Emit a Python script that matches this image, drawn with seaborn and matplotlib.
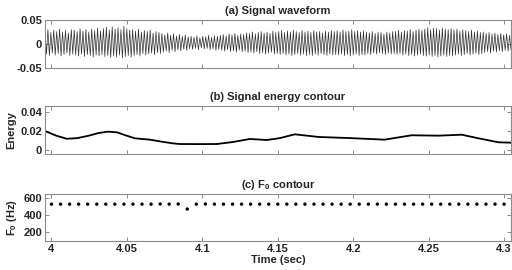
import numpy as np
import pandas as pd
import matplotlib
matplotlib.use("Agg")
import matplotlib.pyplot as plt
import seaborn as sns

# ---------------- data ----------------
# per-cycle positive / negative peaks of the waveform
wave_upper = [.027,.030,.024,.029,.026,.031,.025,.028,.023,.030,
              .029,.026,.032,.027,.030,.025,.031,.028,.033,.027,
              .032,.035,.029,.036,.031,.034,.030,.037,.032,.029,
              .030,.027,.031,.025,.028,.026,.029,.023,.026,.024,
              .022,.019,.023,.018,.021,.017,.020,.016,.019,.015,
              .016,.014,.017,.013,.016,.015,.018,.014,.017,.016,
              .018,.020,.017,.021,.019,.022,.018,.021,.020,.023,
              .022,.025,.021,.024,.026,.023,.025,.022,.027,.024,
              .026,.028,.024,.027,.025,.029,.026,.024,.028,.025,
              .027,.024,.028,.025,.026,.023,.027,.025,.028,.026,
              .028,.025,.029,.026,.027,.030,.026,.028,.025,.027,
              .025,.023,.026,.022,.025,.024,.021,.025,.023,.026,
              .026,.029,.025,.028,.027,.030,.026,.029,.031,.028,
              .031,.034,.030,.033,.032,.029,.033,.031,.030,.032,
              .029,.031,.027,.030,.028,.026,.029,.025,.027,.024,
              .025,.022,.024,.021,.023,.020,.022,.019,.021,.018]
wave_lower = [-.021,-.024,-.019,-.023,-.020,-.025,-.022,-.019,-.024,-.021,
              -.023,-.025,-.021,-.026,-.022,-.024,-.027,-.023,-.025,-.022,
              -.026,-.024,-.028,-.025,-.027,-.023,-.029,-.026,-.024,-.027,
              -.024,-.022,-.025,-.020,-.023,-.021,-.019,-.022,-.018,-.020,
              -.017,-.015,-.018,-.013,-.016,-.012,-.014,-.011,-.013,-.010,
              -.011,-.009,-.012,-.008,-.010,-.009,-.012,-.010,-.013,-.011,
              -.013,-.015,-.012,-.016,-.014,-.017,-.013,-.016,-.015,-.018,
              -.017,-.019,-.016,-.020,-.018,-.021,-.019,-.017,-.021,-.020,
              -.022,-.020,-.023,-.021,-.024,-.022,-.020,-.023,-.021,-.024,
              -.022,-.024,-.021,-.023,-.020,-.022,-.024,-.021,-.023,-.022,
              -.023,-.021,-.024,-.022,-.025,-.023,-.021,-.024,-.022,-.023,
              -.020,-.022,-.019,-.021,-.018,-.020,-.022,-.019,-.021,-.020,
              -.022,-.020,-.023,-.021,-.024,-.022,-.025,-.023,-.021,-.024,
              -.025,-.023,-.026,-.024,-.027,-.025,-.023,-.026,-.024,-.025,
              -.023,-.021,-.024,-.022,-.020,-.023,-.021,-.019,-.022,-.020,
              -.018,-.016,-.019,-.015,-.017,-.014,-.016,-.013,-.015,-.012]

energy_time = [3.9957, 4.0030, 4.0101, 4.0170, 4.0240, 4.0310, 4.0374, 4.0434,
               4.0490, 4.0553, 4.0600, 4.0652, 4.0720, 4.0805, 4.0851, 4.0970,
               4.1096, 4.1202, 4.1315, 4.1427, 4.1513, 4.1613, 4.1772, 4.1970,
               4.2209, 4.2387, 4.2566, 4.2719, 4.2831, 4.2964, 4.3050]
energy_values = [0.0200, 0.0152, 0.0118, 0.0125, 0.0148, 0.0178, 0.0193, 0.0186,
                 0.0155, 0.0123, 0.0116, 0.0109, 0.0090, 0.0070, 0.0063, 0.0062,
                 0.0063, 0.0084, 0.0116, 0.0105, 0.0125, 0.0165, 0.0137, 0.0126,
                 0.0109, 0.0155, 0.0151, 0.0161, 0.0123, 0.0081, 0.0077]

f0_values = [531, 531, 531, 531, 531, 531, 531, 531, 531, 531,
             531, 531, 533, 531, 533, 474, 531, 533, 531, 531,
             531, 531, 531, 531, 531, 531, 531, 531, 531, 531,
             531, 531, 531, 531, 531, 531, 531, 531, 531, 531,
             531, 531, 531, 531, 531, 531, 531, 531, 531, 531, 531]
f0_start, f0_step = 4.0, 0.006

x_ticks = [4.0, 4.05, 4.1, 4.15, 4.2, 4.25, 4.3]
x_ticklabels = ["4", "4.05", "4.1", "4.15", "4.2", "4.25", "4.3"]
wave_yticks, wave_yticklabels = [-0.05, 0, 0.05], ["-0.05", "0", "0.05"]
energy_yticks, energy_yticklabels = [0, 0.02, 0.04], ["0", "0.02", "0.04"]
f0_yticks, f0_yticklabels = [200, 400, 600], ["200", "400", "600"]

XMIN, XMAX = 3.9957, 4.3046

# ---------------- build tables ----------------
wave_y = np.empty(2 * len(wave_upper))
wave_y[0::2] = wave_upper
wave_y[1::2] = wave_lower
wave_df = pd.DataFrame({"t": np.linspace(XMIN, XMAX, len(wave_y)), "y": wave_y})
energy_df = pd.DataFrame({"t": energy_time, "e": energy_values})
f0_df = pd.DataFrame({"t": f0_start + f0_step * np.arange(len(f0_values)),
                      "f0": f0_values})

# ---------------- style ----------------
sns.set_style("white")
plt.rcParams["font.family"] = ["Liberation Sans", "DejaVu Sans"]
plt.rcParams["font.weight"] = "bold"
plt.rcParams["mathtext.fontset"] = "custom"
plt.rcParams["mathtext.rm"] = "Liberation Sans:bold"
plt.rcParams["mathtext.bf"] = "Liberation Sans:bold"
plt.rcParams["mathtext.it"] = "Liberation Sans:bold"

fig = plt.figure(figsize=(5.12, 2.70), dpi=100)
left, width = 45 / 512, 466 / 512
ax_a = fig.add_axes([left, 1 - 68 / 270, width, 48 / 270])
ax_b = fig.add_axes([left, 1 - 154 / 270, width, 48 / 270])
ax_c = fig.add_axes([left, 1 - 241 / 270, width, 47 / 270])

sns.lineplot(data=wave_df, x="t", y="y", ax=ax_a, color="#303030",
             linewidth=0.5, estimator=None, sort=False)
sns.lineplot(data=energy_df, x="t", y="e", ax=ax_b, color="black",
             linewidth=1.3, estimator=None)
sns.scatterplot(data=f0_df, x="t", y="f0", ax=ax_c, color="black",
                s=6, edgecolor="none")

spine_col = "#8c8c8c"
for ax, yl, yt, ytl in [(ax_a, (-0.05, 0.05), wave_yticks, wave_yticklabels),
                        (ax_b, (-0.0042, 0.0463), energy_yticks, energy_yticklabels),
                        (ax_c, (100, 650), f0_yticks, f0_yticklabels)]:
    ax.set_xlim(XMIN, XMAX)
    ax.set_ylim(*yl)
    ax.set_yticks(yt)
    ax.set_yticklabels(ytl)
    ax.set_xticks(x_ticks)
    ax.set_xticklabels(x_ticklabels)
    for s in ax.spines.values():
        s.set_visible(True)
        s.set_color(spine_col)
        s.set_linewidth(0.8)
    ax.tick_params(direction="in", length=3, width=0.7, color=spine_col,
                   top=True, right=True, bottom=True, left=True,
                   labelsize=8, pad=2)
    for lab in ax.get_xticklabels() + ax.get_yticklabels():
        lab.set_fontweight("bold")
    ax.set_xlabel("")
    ax.set_ylabel("")

ax_a.tick_params(labelbottom=False)
ax_b.tick_params(labelbottom=False)

ax_a.set_title("(a) Signal waveform", fontsize=8, fontweight="bold", pad=4)
ax_b.set_title("(b) Signal energy contour", fontsize=8, fontweight="bold", pad=4)
ax_c.set_title(r"(c) F$_{\mathbf{0}}$ contour", fontsize=8, fontweight="bold", pad=4)

ax_b.set_ylabel("Energy", fontsize=8, fontweight="bold", labelpad=3)
ax_c.set_ylabel(r"F$_{\mathbf{0}}$ (Hz)", fontsize=8, fontweight="bold", labelpad=3)
ax_c.set_xlabel("Time (sec)", fontsize=8, fontweight="bold", labelpad=1)

fig.savefig("out.png", dpi=100)
